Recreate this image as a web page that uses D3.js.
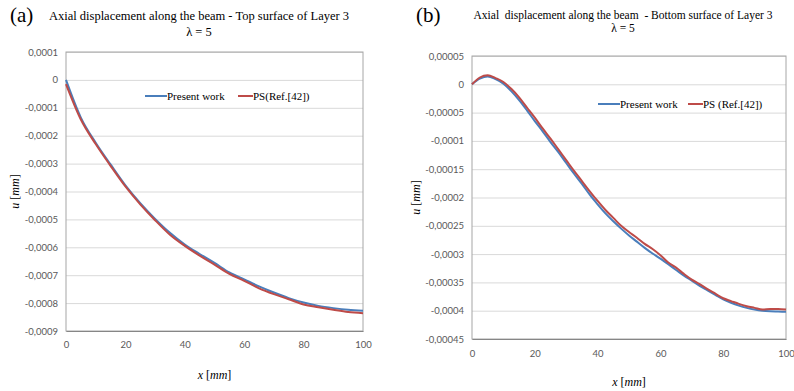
<!DOCTYPE html>
<html>
<head>
<meta charset="utf-8">
<script src="https://cdn.jsdelivr.net/npm/d3@7"></script>
<style>
  body { margin: 0; background: #fff; }
  svg text { fill: #000; }
  .tick text { fill: #595959; font-family: Lato, "Open Sans", sans-serif; font-size: 9.5px; }
</style>
</head>
<body>
<div id="chart"></div>
<script>
// x positions (mm)
var xA = [0,5,10,15,20,25,30,35,40,45,50,55,60,65,70,75,80,85,90,95,100];
var xB = [0,2.5,5,7.5,10,12.5,15,17.5,20,22.5,25,27.5,30,32.5,35,37.5,40,42.5,45,47.5,50,
          52.5,55,57.5,60,62.5,65,67.5,70,72.5,75,77.5,80,82.5,85,87.5,90,92.5,95,97.5,100];

// (a) top surface, u in 1e-4 mm
var presentA = [0,-1.35,-2.25,-3.03,-3.78,-4.42,-4.98,-5.48,-5.9,-6.24,-6.56,-6.9,-7.15,-7.4,-7.62,-7.82,-7.98,-8.1,-8.18,-8.24,-8.27];
var psA      = [-0.15,-1.42,-2.3,-3.08,-3.82,-4.46,-5.03,-5.55,-5.95,-6.3,-6.62,-6.95,-7.2,-7.47,-7.68,-7.86,-8.05,-8.15,-8.24,-8.32,-8.36];

// (b) bottom surface, u in 1e-5 mm
var presentB = [0,1.0,1.4,0.9,0.1,-1.2,-2.8,-4.6,-6.5,-8.3,-10.2,-12.0,-13.9,-15.8,-17.6,-19.5,-21.2,-22.8,-24.2,-25.5,-26.7,
                -27.8,-28.9,-29.9,-30.8,-31.8,-32.8,-33.8,-34.7,-35.6,-36.4,-37.2,-38.0,-38.6,-39.1,-39.5,-39.8,-40.0,-40.1,-40.15,-40.2];
var psB      = [0,1.2,1.6,1.1,0.4,-0.8,-2.3,-4.1,-5.9,-7.8,-9.6,-11.5,-13.4,-15.3,-17.1,-18.9,-20.6,-22.2,-23.6,-25.0,-26.1,
                -27.1,-28.2,-29.1,-30.2,-31.5,-32.4,-33.5,-34.5,-35.3,-36.2,-37.0,-37.8,-38.3,-38.8,-39.2,-39.5,-39.8,-39.7,-39.7,-39.8];

// tick labels
var xTicks = [0,20,40,60,80,100];
var yTicksA = ["0,0001","0","-0,0001","-0,0002","-0,0003","-0,0004","-0,0005","-0,0006","-0,0007","-0,0008","-0,0009"];
var yTicksB = ["0,00005","0","-0,00005","-0,0001","-0,00015","-0,0002","-0,00025","-0,0003","-0,00035","-0,0004","-0,00045"];

var blue = "#4a7ebb", red = "#be4b48";

var svg = d3.select("#chart")
  .append("svg")
    .attr("width", 794)
    .attr("height", 391);

function toNum(s) { return +s.replace(",", "."); }

function drawPanel(o) {
  var g = svg.append("g").attr("transform", "translate(" + o.left + "," + o.top + ")");
  var w = o.width, h = o.height;
  var yVals = o.yTicks.map(toNum);

  var x = d3.scaleLinear().domain([0, 100]).range([0, w]);
  var y = d3.scaleLinear().domain([d3.min(yVals), d3.max(yVals)]).range([h, 0]);

  // gridlines
  g.append("g")
    .call(d3.axisLeft(y).tickValues(yVals).tickSize(-w).tickFormat(""))
    .call(function(a) { a.select(".domain").remove(); })
    .selectAll("line").attr("stroke", "#d9d9d9");

  // plot frame
  g.append("rect")
    .attr("width", w).attr("height", h)
    .attr("fill", "none").attr("stroke", "#a6a6a6");

  // y axis labels
  var ya = g.append("g")
    .call(d3.axisLeft(y).tickValues(yVals).tickSize(0).tickPadding(8)
      .tickFormat(function(d, i) { return o.yTicks[i]; }));
  ya.select(".domain").remove();

  // x axis
  var xa = g.append("g")
    .attr("transform", "translate(0," + h + ")")
    .call(d3.axisBottom(x).tickValues(xTicks).tickSize(0).tickPadding(o.xPad));
  xa.select(".domain").attr("stroke", "#868686");

  // lines
  var line = d3.line()
    .x(function(d) { return x(d[0]); })
    .y(function(d) { return y(d[1] * o.scale); })
    .curve(d3.curveMonotoneX);

  g.append("path")
    .datum(o.xs.map(function(v, i) { return [v, o.present[i]]; }))
    .attr("fill", "none").attr("stroke", blue).attr("stroke-width", 2)
    .attr("d", line);
  g.append("path")
    .datum(o.xs.map(function(v, i) { return [v, o.ps[i]]; }))
    .attr("fill", "none").attr("stroke", red).attr("stroke-width", 2)
    .attr("d", line);

  // legend
  var lg = svg.append("g").attr("font-family", "'Liberation Serif', serif").attr("font-size", "11px");
  lg.append("line").attr("x1", o.leg[0]).attr("x2", o.leg[0] + 22).attr("y1", o.leg[1]).attr("y2", o.leg[1])
    .attr("stroke", blue).attr("stroke-width", 2);
  lg.append("text").attr("x", o.leg[0] + 22).attr("y", o.leg[1] + 4).text("Present work");
  lg.append("line").attr("x1", o.leg[2]).attr("x2", o.leg[2] + 15).attr("y1", o.leg[1]).attr("y2", o.leg[1])
    .attr("stroke", red).attr("stroke-width", 2);
  lg.append("text").attr("x", o.leg[2] + 15).attr("y", o.leg[1] + 4).text(o.psLabel);

  // titles
  var t = svg.append("g").attr("font-family", "'Liberation Serif', serif").attr("text-anchor", "middle");
  t.append("text").attr("x", o.titleX).attr("y", o.titleY).attr("font-size", o.titleSize)
    .attr("xml:space", "preserve").text(o.title);
  t.append("text").attr("x", o.titleX).attr("y", o.lambdaY).attr("font-size", o.titleSize).text("λ = 5");
  svg.append("text").attr("x", o.tag[0]).attr("y", o.tag[1])
    .attr("font-family", "'Liberation Serif', serif").attr("font-size", "21px").text(o.tagText);

  // axis titles
  var xt = svg.append("text").attr("x", o.left + w / 2).attr("y", o.xTitleY)
    .attr("text-anchor", "middle").attr("font-family", "'Liberation Serif', serif").attr("font-size", "12px");
  xt.append("tspan").attr("font-style", "italic").text("x");
  xt.append("tspan").text(" [");
  xt.append("tspan").attr("font-style", "italic").text("mm");
  xt.append("tspan").text("]");

  var yt = svg.append("text")
    .attr("transform", "translate(" + o.yTitleX + "," + (o.top + h / 2) + ") rotate(-90)")
    .attr("text-anchor", "middle").attr("font-family", "'Liberation Serif', serif").attr("font-size", "12px");
  yt.append("tspan").attr("font-style", "italic").text("u");
  yt.append("tspan").text(" [");
  yt.append("tspan").attr("font-style", "italic").text("mm");
  yt.append("tspan").text("]");
}

drawPanel({
  left: 66, top: 52, width: 297, height: 279,
  yTicks: yTicksA, xs: xA, present: presentA, ps: psA, scale: 1e-4,
  xPad: 10, leg: [145, 96, 238], psLabel: "PS(Ref.[42])",
  title: "Axial displacement along the beam - Top surface of Layer 3", titleSize: "12.5px",
  titleX: 199, titleY: 20, lambdaY: 36, tag: [10, 22], tagText: "(a)",
  xTitleY: 379, yTitleX: 19
});

drawPanel({
  left: 472, top: 56, width: 314, height: 283,
  yTicks: yTicksB, xs: xB, present: presentB, ps: psB, scale: 1e-5,
  xPad: 11, leg: [598, 104, 688], psLabel: "PS (Ref.[42])",
  title: "Axial  displacement along the beam  - Bottom surface of Layer 3", titleSize: "11.5px",
  titleX: 623, titleY: 19, lambdaY: 32, tag: [416, 22], tagText: "(b)",
  xTitleY: 386, yTitleX: 420
});
</script>
</body>
</html>
